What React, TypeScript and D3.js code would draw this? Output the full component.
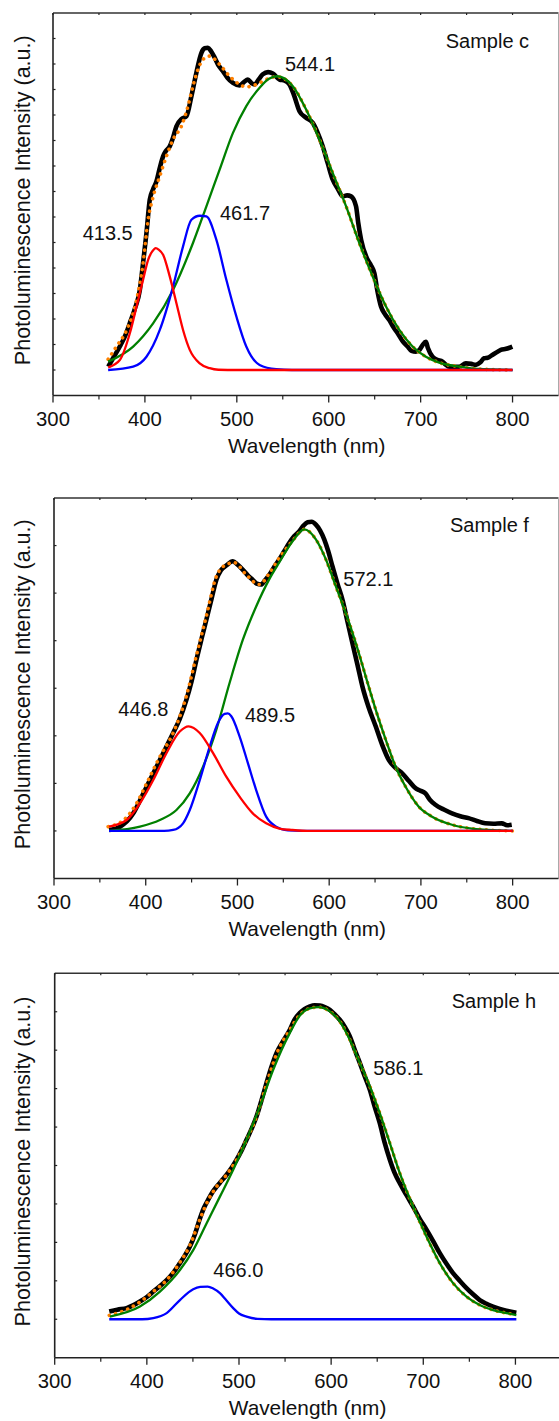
import React, { useEffect, useRef } from "react";
import * as d3 from "d3";

type Pt = [number, number];

const xTicks = [300, 400, 500, 600, 700, 800];
const xMinorTicks = [350, 450, 550, 650, 750];
const xTitle = "Wavelength (nm)";
const yTitle = "Photoluminescence Intensity (a.u.)";

// ---- Sample c ----
const cMeasured: Pt[] = [
  [360, 0.13], [366, 0.5], [372.7, 0.92], [378, 1.3], [383.6, 1.84], [389, 2.4], [394.5, 3.14], [398, 4.2],
  [401.7, 5.37], [405.3, 6.68], [409, 7.1], [412.6, 7.4], [416, 7.9], [419.8, 8.38], [423, 8.6], [427, 8.77],
  [430.5, 9.1], [434.3, 9.56], [440, 9.85], [445.2, 9.95], [450.6, 10.74], [456, 11.66], [461.5, 12.44],
  [465, 12.62], [468.6, 12.64], [472, 12.5], [475.9, 12.25], [480, 11.95], [484.9, 11.72], [490, 11.45],
  [495.8, 11.26], [503, 11.16], [508, 11.3], [512, 11.39], [516, 11.25], [519.3, 11.2], [524, 11.4],
  [528.3, 11.6], [534, 11.68], [539.2, 11.63], [546.5, 11.39], [552, 11.35], [557.3, 11.2], [562, 10.8],
  [568.2, 10.15], [575, 9.9], [582.6, 9.69], [588, 9.3], [593.5, 8.77], [599, 8.1], [604.3, 7.47], [610, 7.1],
  [615.2, 6.81], [620, 6.85], [624.3, 6.81], [629.7, 6.42], [632, 5.8], [635.2, 5.11], [642.4, 4.32],
  [646, 4.1], [649.6, 3.8], [653, 3.1], [656.9, 2.49], [661, 2.2], [665.9, 1.96], [670, 1.7], [675, 1.44],
  [680, 1.15], [685.8, 0.92], [690, 0.75], [694.9, 0.72], [699, 0.8], [702.1, 0.98], [705.7, 1.11],
  [708, 0.85], [712.9, 0.52], [718, 0.4], [723.8, 0.33], [727, 0.22], [731, 0.13], [741.9, 0.13],
  [749.2, 0.26], [755, 0.24], [760, 0.2], [765, 0.3], [769, 0.46], [773, 0.48], [778, 0.59], [783, 0.7],
  [787.2, 0.79], [793, 0.83], [799.8, 0.92],
];
const cFit: Pt[] = [
  [360, 0.42], [369, 0.92], [380.2, 1.57], [391, 2.75], [398, 4.19], [403.5, 5.9], [409, 6.8], [416.2, 7.6],
  [423.4, 8.38], [430.6, 9.04], [439.7, 9.56], [446.9, 10.35], [452.3, 11.13], [457.8, 11.79], [463.2, 12.18],
  [470.5, 12.31], [481.3, 11.98], [492.2, 11.52], [503, 11.2], [510.3, 11.1], [521.2, 11.2], [532, 11.39],
  [542.9, 11.5], [550, 11.45], [560.9, 11.13], [575.4, 10.22], [589.9, 9.04], [604.3, 7.73], [618.9, 6.42],
  [633.3, 4.98], [647.8, 3.67], [662.3, 2.49], [676.8, 1.57], [691.2, 0.92], [705.7, 0.52], [720.2, 0.29],
  [741.9, 0.13], [762, 0.04], [800, 0],
];
const cRed: Pt[] = [
  [360, 0.1], [372.7, 0.39], [383.6, 1.44], [390.9, 2.49], [398, 3.54], [403.5, 4.32], [408, 4.65],
  [411.8, 4.78], [415, 4.72], [419.8, 4.52], [427, 3.67], [434.3, 2.62], [441.5, 1.57], [448.8, 0.79],
  [459.6, 0.26], [470.5, 0.07], [480, 0.01], [500, 0], [800, 0],
];
const cBlue: Pt[] = [
  [360, 0], [387.2, 0.13], [401.7, 0.52], [416.2, 1.57], [430.6, 3.27], [441.5, 4.85], [450.6, 5.89],
  [459.6, 6.05], [466.9, 6.02], [477.7, 5.11], [488.6, 3.54], [499.5, 2.1], [510.3, 0.92], [524.8, 0.2],
  [542.9, 0.03], [560, 0], [800, 0],
];
const cGreen: Pt[] = [
  [360, 0.33], [387.2, 0.92], [408.9, 1.83], [430.6, 3.14], [452.3, 4.98], [466.9, 6.42], [481.3, 7.86],
  [495.8, 9.3], [510.3, 10.35], [524.8, 11.07], [535, 11.42], [544, 11.52], [560.9, 11.13], [575.4, 10.22],
  [589.9, 9.04], [604.3, 7.73], [618.9, 6.42], [633.3, 4.98], [647.8, 3.67], [662.3, 2.49], [676.8, 1.57],
  [691.2, 0.92], [705.7, 0.52], [720.2, 0.29], [741.9, 0.13], [762, 0.04], [800, 0],
];
const cPeaks = ["413.5", "461.7", "544.1"];

// ---- Sample f ----
const fMeasured: Pt[] = [
  [360, 0.02], [372, 0.09], [386.4, 0.37], [394, 0.65], [401, 0.93], [408, 1.2], [415.4, 1.49], [422, 1.75],
  [429.9, 2.06], [437, 2.35], [444.4, 2.76], [450, 3.15], [455.3, 3.6], [461, 4.05], [466.1, 4.44], [472, 4.9],
  [477, 5.28], [482, 5.48], [487.8, 5.58], [495, 5.67], [500, 5.6], [505.9, 5.49], [511, 5.38], [516.7, 5.28],
  [521, 5.2], [525.8, 5.18], [530, 5.27], [534.9, 5.39], [540, 5.55], [545.7, 5.71], [551, 5.88], [556.6, 6.06],
  [562, 6.2], [567.4, 6.3], [572, 6.42], [576.4, 6.49], [581, 6.5], [585.5, 6.44], [590, 6.32], [594.6, 6.13],
  [599, 5.88], [603.6, 5.56], [609, 5.2], [614.5, 4.86], [620, 4.4], [625.3, 3.95], [631, 3.48], [636.2, 3.04],
  [643, 2.6], [650.7, 2.2], [658, 1.8], [665.1, 1.49], [672, 1.33], [679.6, 1.21], [687, 1.05], [694.1, 0.9],
  [699, 0.85], [704.9, 0.79], [710, 0.65], [715.8, 0.55], [725, 0.45], [733.9, 0.37], [743, 0.31], [752, 0.27],
  [761, 0.21], [770.1, 0.16], [779, 0.15], [788.2, 0.16], [794, 0.12], [799, 0.13],
];
const fFit: Pt[] = [
  [359, 0.09], [376, 0.23], [390, 0.58], [401, 1.0], [415.4, 1.56], [429.9, 2.06], [444.4, 2.84], [455.3, 3.69],
  [466, 4.51], [477, 5.35], [487.8, 5.6], [496.5, 5.64], [509.4, 5.39], [523.8, 5.18], [534.9, 5.42],
  [545.7, 5.74], [560.1, 6.1], [572.8, 6.34], [585.5, 6.13], [596.4, 5.71], [607.3, 5.14], [618.1, 4.58],
  [629, 3.95], [639.8, 3.25], [650.7, 2.55], [661.6, 1.92], [672.4, 1.35], [683.3, 0.93], [697.7, 0.51],
  [712.2, 0.3], [733.9, 0.13], [755.6, 0.05], [800, 0],
];
const fRed: Pt[] = [
  [360, 0.09], [379.2, 0.23], [393.7, 0.58], [408.2, 1.07], [422.7, 1.64], [437.1, 2.09], [446.8, 2.2],
  [458.9, 2.06], [473.3, 1.64], [487.8, 1.14], [502.3, 0.72], [516.7, 0.37], [531.3, 0.16], [545.7, 0.05],
  [560, 0.02], [580, 0], [800, 0],
];
const fBlue: Pt[] = [
  [360, 0], [420, 0], [429.9, 0.02], [440.7, 0.16], [448, 0.44], [458.9, 1.07], [469.7, 1.77], [478.7, 2.27],
  [486, 2.46], [489.5, 2.47], [493.3, 2.41], [502.3, 1.99], [511.3, 1.43], [520.4, 0.86], [531.3, 0.3],
  [542.1, 0.09], [555, 0.01], [570, 0], [800, 0],
];
const fGreen: Pt[] = [
  [360, 0], [393.7, 0.09], [415.4, 0.23], [433.5, 0.44], [448, 0.79], [462.5, 1.35], [477, 2.13], [491.4, 3.11],
  [505.9, 4.02], [520.4, 4.72], [534.9, 5.3], [545.7, 5.65], [560.1, 6.09], [572.8, 6.34], [585.5, 6.13],
  [596.4, 5.71], [607.3, 5.14], [618.1, 4.58], [629, 3.95], [639.8, 3.25], [650.7, 2.55], [661.6, 1.92],
  [672.4, 1.35], [683.3, 0.93], [697.7, 0.51], [712.2, 0.3], [733.9, 0.13], [755.6, 0.05], [800, 0],
];
const fPeaks = ["446.8", "489.5", "572.1"];

// ---- Sample h ----
const hMeasured: Pt[] = [
  [359.2, 0.2], [368, 0.25], [378.1, 0.29], [385, 0.36], [392.5, 0.46], [400, 0.58], [407, 0.72], [414, 0.86],
  [421.5, 1.02], [429, 1.22], [435.9, 1.46], [441, 1.65], [446.7, 1.89], [452, 2.2], [457.6, 2.62], [462, 2.9],
  [466.6, 3.11], [471, 3.3], [475.7, 3.45], [481, 3.6], [486.6, 3.76], [492, 3.94], [497.4, 4.15], [503, 4.4],
  [508.2, 4.67], [514, 4.97], [519.1, 5.28], [524.5, 5.7], [529.9, 6.15], [535, 6.55], [540.8, 6.93],
  [547, 7.2], [555.2, 7.53], [560, 7.78], [566.1, 7.97], [571, 8.07], [576.9, 8.14], [582, 8.17],
  [587.7, 8.16], [593, 8.12], [598.6, 8.05], [604, 7.93], [609.4, 7.79], [615, 7.6], [620.3, 7.36],
  [625, 7.05], [631.1, 6.67], [636, 6.35], [642, 5.97], [647, 5.55], [652.8, 5.1], [658, 4.6], [663.7, 4.15],
  [669, 3.8], [674.5, 3.54], [682, 3.22], [689, 2.93], [696, 2.62], [703.5, 2.33], [711, 2.02], [717.9, 1.72],
  [725, 1.45], [732.3, 1.2], [740, 0.99], [746.9, 0.81], [754, 0.65], [761.3, 0.5], [768, 0.41],
  [775.7, 0.33], [783, 0.27], [790.2, 0.22], [801, 0.17],
];
const hFit: Pt[] = [
  [359.2, 0.1], [378.1, 0.25], [392.5, 0.45], [407, 0.72], [421.5, 1.02], [435.9, 1.48], [446.7, 1.92],
  [457.6, 2.6], [466.6, 3.1], [475.7, 3.45], [486.6, 3.76], [497.4, 4.15], [508.2, 4.67], [519.1, 5.28],
  [529.9, 6.12], [540.8, 6.9], [555.2, 7.53], [566.1, 7.92], [576, 8.08], [586.1, 8.12], [598.6, 8.01],
  [609.4, 7.75], [620.3, 7.27], [631.1, 6.67], [642, 6.06], [652.8, 5.36], [663.7, 4.58], [674.5, 3.8],
  [689, 2.93], [703.5, 2.15], [717.9, 1.46], [732.3, 0.94], [746.9, 0.59], [761.3, 0.37], [775.7, 0.24],
  [790.2, 0.16], [801, 0.11],
];
const hBlue: Pt[] = [
  [359.2, 0], [395, 0], [407, 0.03], [421.5, 0.16], [435.9, 0.5], [450.3, 0.78], [458, 0.84], [466, 0.85],
  [472, 0.8], [479.3, 0.68], [486, 0.5], [493.7, 0.29], [500, 0.15], [508.2, 0.07], [520, 0.01], [535, 0],
  [801, 0],
];
const hGreen: Pt[] = [
  [359.9, 0.07], [392.5, 0.33], [414.2, 0.72], [435.9, 1.28], [450.3, 1.8], [464.9, 2.5], [479.3, 3.19],
  [493.7, 3.89], [508.2, 4.67], [522.7, 5.54], [537.1, 6.49], [555.2, 7.45], [566.1, 7.9], [576, 8.08],
  [586.1, 8.12], [598.6, 8.01], [609.4, 7.75], [620.3, 7.27], [631.1, 6.67], [642, 6.06], [652.8, 5.36],
  [663.7, 4.58], [674.5, 3.8], [689, 2.93], [703.5, 2.15], [717.9, 1.46], [732.3, 0.94], [746.9, 0.59],
  [761.3, 0.37], [775.7, 0.24], [790.2, 0.16], [801, 0.11],
];
const hPeaks = ["466.0", "586.1"];

const FONT = "'Liberation Sans', Arial, Helvetica, sans-serif";

// layout of the three stacked frames (pixels)
const panels = [
  {
    name: "Sample c", top: 13, bottom: 395.5, left: 53, right: 558.5, yMax: 14,
    measured: cMeasured, fit: cFit, green: cGreen, blue: cBlue, red: cRed, peaks: cPeaks,
    peakPos: [[82.7, 239.5], [220, 220], [285, 70.5]], namePos: [445.7, 48],
  },
  {
    name: "Sample f", top: 498, bottom: 878.5, left: 54, right: 558.5, yMax: 7,
    measured: fMeasured, fit: fFit, green: fGreen, blue: fBlue, red: fRed, peaks: fPeaks,
    peakPos: [[118.3, 716], [245, 722], [343.3, 586]], namePos: [450, 532],
  },
  {
    name: "Sample h", top: 973.3, bottom: 1357.7, left: 54.7, right: 561.5, yMax: 9,
    measured: hMeasured, fit: hFit, green: hGreen, blue: hBlue, red: null, peaks: hPeaks,
    peakPos: [[213.3, 1276.5], [373.3, 1075]], namePos: [451.7, 1008],
  },
];

function App() {
  const ref = useRef<SVGSVGElement>(null);

  useEffect(() => {
    const svg = d3.select(ref.current);
    svg.selectAll("*").remove();

    panels.forEach((p) => {
      const g = svg.append("g");
      const x = d3.scaleLinear().domain([300, 850]).range([p.left, p.right]);
      const y = d3.scaleLinear().domain([-1, p.yMax]).range([p.bottom, p.top]);
      const line = d3
        .line<Pt>()
        .x((d) => x(d[0]))
        .y((d) => y(d[1]))
        .curve(d3.curveMonotoneX);

      // frame
      g.append("line").attr("x1", p.left).attr("x2", p.right).attr("y1", p.top).attr("y2", p.top)
        .attr("stroke", "#333").attr("stroke-width", 1.4);
      g.append("line").attr("x1", p.right).attr("x2", p.right).attr("y1", p.top).attr("y2", p.bottom)
        .attr("stroke", "#aaa").attr("stroke-width", 1);
      g.append("line").attr("x1", p.left).attr("x2", p.right).attr("y1", p.bottom).attr("y2", p.bottom)
        .attr("stroke", "#222").attr("stroke-width", 1.6);
      g.append("line").attr("x1", p.left).attr("x2", p.left).attr("y1", p.top).attr("y2", p.bottom)
        .attr("stroke", "#222").attr("stroke-width", 1.6);

      // bottom ticks (outward)
      g.selectAll(".xmaj").data(xTicks).join("line")
        .attr("x1", (d) => x(d)).attr("x2", (d) => x(d))
        .attr("y1", p.bottom).attr("y2", p.bottom + 7)
        .attr("stroke", "#222").attr("stroke-width", 1.3);
      g.selectAll(".xmin").data(xMinorTicks).join("line")
        .attr("x1", (d) => x(d)).attr("x2", (d) => x(d))
        .attr("y1", p.bottom).attr("y2", p.bottom + 4)
        .attr("stroke", "#222").attr("stroke-width", 1.2);
      // top ticks (small)
      g.selectAll(".xtop").data(xTicks.concat(xMinorTicks)).join("line")
        .attr("x1", (d) => x(d)).attr("x2", (d) => x(d))
        .attr("y1", p.top).attr("y2", p.top + 2)
        .attr("stroke", "#222").attr("stroke-width", 1.2);
      // left ticks (inward)
      g.selectAll(".ytick").data(d3.range(0, p.yMax)).join("line")
        .attr("x1", p.left).attr("x2", p.left + 2.5)
        .attr("y1", (d) => y(d)).attr("y2", (d) => y(d))
        .attr("stroke", "#222").attr("stroke-width", 1.2);

      // tick labels
      g.selectAll(".xlab").data(xTicks).join("text")
        .attr("x", (d) => x(d)).attr("y", p.bottom + 30.6)
        .attr("text-anchor", "middle").attr("font-family", FONT).attr("font-size", 20.3)
        .attr("fill", "#111").text((d) => d);

      g.append("text")
        .attr("x", (p.left + 558.5) / 2 + 1).attr("y", p.bottom + 57)
        .attr("text-anchor", "middle").attr("font-family", FONT).attr("font-size", 20.8)
        .attr("fill", "#111").text(xTitle);

      g.append("text")
        .attr("transform", `translate(30,${(p.top + p.bottom) / 2 - 4}) rotate(-90)`)
        .attr("text-anchor", "middle").attr("font-family", FONT).attr("font-size", 21.5)
        .attr("fill", "#111").text(yTitle);

      // curves
      g.append("path").attr("d", line(p.measured)).attr("fill", "none")
        .attr("stroke", "#000").attr("stroke-width", 4.6).attr("stroke-linejoin", "round");
      g.append("path").attr("d", line(p.fit)).attr("fill", "none")
        .attr("stroke", "#ff8000").attr("stroke-width", 3.6)
        .attr("stroke-dasharray", "0.1 6.4").attr("stroke-linecap", "round");
      g.append("path").attr("d", line(p.green)).attr("fill", "none")
        .attr("stroke", "#008000").attr("stroke-width", 2.3);
      g.append("path").attr("d", line(p.blue)).attr("fill", "none")
        .attr("stroke", "#0000ff").attr("stroke-width", 2.3);
      if (p.red) {
        g.append("path").attr("d", line(p.red)).attr("fill", "none")
          .attr("stroke", "#ff0000").attr("stroke-width", 2.3);
      }

      // annotations
      g.selectAll(".peak").data(p.peaks).join("text")
        .attr("x", (d, i) => p.peakPos[i][0]).attr("y", (d, i) => p.peakPos[i][1])
        .attr("font-family", FONT).attr("font-size", 20).attr("fill", "#111")
        .text((d) => d);
      g.append("text")
        .attr("x", p.namePos[0]).attr("y", p.namePos[1])
        .attr("font-family", FONT).attr("font-size", 20).attr("fill", "#111")
        .text(p.name);
    });
  }, []);

  return (
    <div style={{ position: "absolute", left: 0, top: 0, background: "#fff" }}>
      <svg ref={ref} width={559} height={1421} style={{ display: "block" }} />
    </div>
  );
}

export default App;
